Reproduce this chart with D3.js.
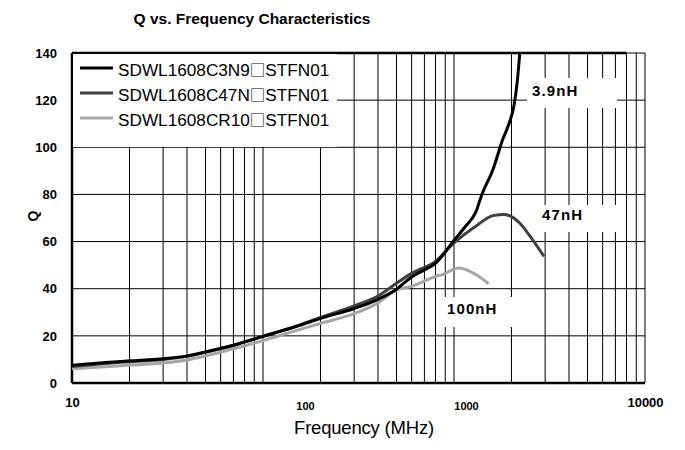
<!DOCTYPE html>
<html>
<head>
<meta charset="utf-8">
<script src="https://cdn.jsdelivr.net/npm/d3@7/dist/d3.min.js"></script>
<style>
  body { margin: 0; background: #fff; }
  svg { font-family: "Liberation Sans", Arial, sans-serif; }
</style>
</head>
<body>
<div id="chart"></div>
<script>
// Q vs frequency for three SDWL1608 inductors
var seriesParts = [['SDWL1608C3N9', 'STFN01'], ['SDWL1608C47N', 'STFN01'], ['SDWL1608CR10', 'STFN01']];
var seriesLabels = ['3.9nH', '47nH', '100nH'];

var freq39 = [10, 15, 20, 30, 40, 50, 70, 100, 150, 200, 300, 400, 500, 600, 700, 800, 1000, 1150, 1300, 1400, 1600, 1800, 1950, 2060, 2150, 2210];
var q39    = [7.5, 8.7, 9.4, 10.3, 11.5, 13.2, 16, 19.8, 24, 27.4, 31.6, 35.5, 39.8, 45, 48, 50.8, 60.5, 66.5, 72.5, 80, 90.6, 103.4, 110.5, 117.6, 128.9, 140];

var freq47 = [10, 15, 20, 30, 40, 50, 70, 100, 150, 200, 300, 400, 500, 600, 800, 1000, 1300, 1600, 1830, 2200, 2570, 2960];
var q47    = [7, 8.3, 9, 10, 11.3, 13, 16, 19.8, 24.2, 27.8, 32.7, 36.9, 42.3, 46.5, 51.6, 59.4, 66.5, 71, 71.5, 68, 60.9, 53.7];

var freq100 = [10, 15, 20, 30, 40, 50, 70, 100, 150, 200, 300, 400, 500, 600, 800, 870, 1060, 1300, 1520];
var q100    = [6, 6.9, 7.6, 8.5, 9.8, 11.5, 14.5, 18, 22.3, 25.3, 29.4, 34, 39.5, 41, 45.2, 46, 48.8, 46, 42.1];

var xTicks = [10, 100, 1000, 10000];
var yTicks = [0, 20, 40, 60, 80, 100, 120, 140];

var width = 685, height = 450;
var margin = {left: 72, right: 40, top: 53, bottom: 67};
var innerWidth = width - margin.left - margin.right;
var innerHeight = height - margin.top - margin.bottom;
var colors = ['#000000', '#404040', '#a6a6a6'];

var svg = d3.select('#chart').append('svg')
            .attr('width', width)
            .attr('height', height);
var g = svg.append('g')
           .attr('transform', 'translate(' + margin.left + ',' + margin.top + ')');

var xScale = d3.scaleLog().domain([10, 10000]).range([0, innerWidth]);
var yScale = d3.scaleLinear().domain([0, 140]).range([innerHeight, 0]);

// grid
var minorFreqs = [];
[10, 100, 1000].forEach(function(dec){
  for (var k = 1; k <= 9; k++) minorFreqs.push(dec * k);
});
minorFreqs.push(10000);
g.selectAll('.vgrid').data(minorFreqs).enter().append('line')
 .attr('x1', function(d){ return xScale(d); })
 .attr('x2', function(d){ return xScale(d); })
 .attr('y1', 0).attr('y2', innerHeight)
 .attr('stroke', '#000').attr('stroke-width', 1);
g.selectAll('.hgrid').data(yTicks).enter().append('line')
 .attr('x1', 0).attr('x2', innerWidth)
 .attr('y1', function(d){ return yScale(d); })
 .attr('y2', function(d){ return yScale(d); })
 .attr('stroke', '#000').attr('stroke-width', 1);

// heavier frame on left, bottom and top
g.append('line').attr('x1', 0).attr('x2', 0).attr('y1', 0).attr('y2', innerHeight)
 .attr('stroke', '#000').attr('stroke-width', 2.5);
g.append('line').attr('x1', 0).attr('x2', innerWidth).attr('y1', innerHeight).attr('y2', innerHeight)
 .attr('stroke', '#000').attr('stroke-width', 2.5);
g.append('line').attr('x1', 0).attr('x2', xScale(8000)).attr('y1', 0).attr('y2', 0)
 .attr('stroke', '#000').attr('stroke-width', 2.5);

// white label boxes
var boxes = [
  {x: 527, y: 78, w: 90, h: 30, tx: 532, ty: 96},
  {x: 537, y: 205, w: 80, h: 27, tx: 542, ty: 220},
  {x: 441, y: 297, w: 73, h: 30, tx: 447, ty: 314}
];
boxes.forEach(function(b, i){
  svg.append('rect').attr('x', b.x).attr('y', b.y).attr('width', b.w).attr('height', b.h).attr('fill', '#fff');
  svg.append('text').attr('x', b.tx).attr('y', b.ty)
     .attr('font-size', '15px').attr('font-weight', 'bold').attr('letter-spacing', '1.1px')
     .text(seriesLabels[i]);
});

// curves
var line = d3.line()
             .x(function(d){ return xScale(d[0]); })
             .y(function(d){ return yScale(d[1]); })
             .curve(d3.curveMonotoneX);
var series = [d3.zip(freq39, q39), d3.zip(freq47, q47), d3.zip(freq100, q100)];
[2, 1, 0].forEach(function(i){
  g.append('path').datum(series[i])
   .attr('d', line)
   .attr('fill', 'none')
   .attr('stroke', colors[i])
   .attr('stroke-width', 3)
   .attr('stroke-linejoin', 'round');
});

// legend
svg.append('rect').attr('x', 73).attr('y', 54).attr('width', 264).attr('height', 93).attr('fill', '#fff');
seriesParts.forEach(function(parts, i){
  var yy = 68 + i * 25;
  svg.append('line').attr('x1', 80).attr('x2', 113).attr('y1', yy).attr('y2', yy)
     .attr('stroke', colors[i]).attr('stroke-width', 3);
  var t = svg.append('text').attr('x', 118).attr('y', yy + 8).attr('font-size', '17.2px');
  t.append('tspan').text(parts[0]);
  t.append('tspan').attr('font-family', '"Noto Sans CJK JP", sans-serif').attr('font-size', '15.5px').text('\u25A1');
  t.append('tspan').text(parts[1]);
});

// axes
var yAxis = d3.axisLeft(yScale).tickValues(yTicks).tickSize(0).tickPadding(15);
var yAxisG = g.append('g').call(yAxis);
yAxisG.select('.domain').remove();
yAxisG.selectAll('text').attr('font-size', '13px').attr('font-weight', 'bold')
      .attr('font-family', '"Liberation Sans", Arial, sans-serif').attr('fill', '#000');

var xShift = [0, 42, 12, 0];
var xSize = ['13px', '11px', '11px', '13px'];
var xAxis = d3.axisBottom(xScale).tickValues(xTicks).tickFormat(d3.format('d')).tickSize(0).tickPadding(15);
var xAxisG = g.append('g').attr('transform', 'translate(0,' + innerHeight + ')').call(xAxis);
xAxisG.select('.domain').remove();
xAxisG.selectAll('text')
      .attr('dx', function(d, i){ return xShift[i]; })
      .attr('dy', function(d, i){ return i === 1 || i === 2 ? '1.05em' : '0.71em'; })
      .attr('font-size', function(d, i){ return xSize[i]; })
      .attr('font-weight', 'bold')
      .attr('font-family', '"Liberation Sans", Arial, sans-serif').attr('fill', '#000');

// titles
svg.append('text').attr('x', 252).attr('y', 24).attr('text-anchor', 'middle')
   .attr('font-size', '15.5px').attr('font-weight', 'bold').text('Q vs. Frequency Characteristics');
svg.append('text').attr('x', 364).attr('y', 434).attr('text-anchor', 'middle')
   .attr('font-size', '18.5px').attr('letter-spacing', '-0.2px').text('Frequency (MHz)');
svg.append('text').attr('transform', 'translate(38,216) rotate(-90)').attr('text-anchor', 'middle')
   .attr('font-size', '14px').attr('font-weight', 'bold').text('Q');
</script>
</body>
</html>
